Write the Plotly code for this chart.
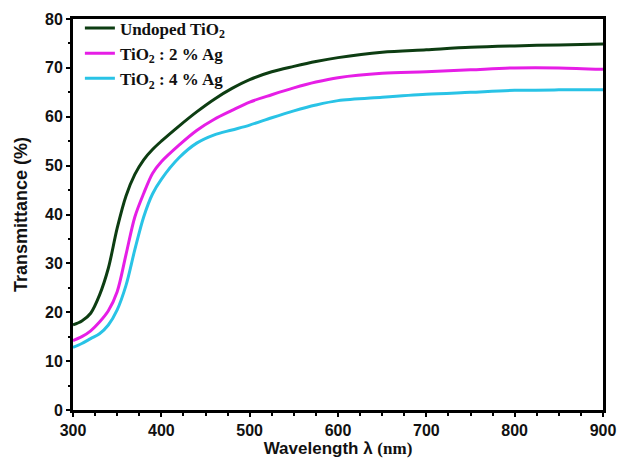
import plotly.graph_objects as go

wavelength = [300, 310, 320, 330, 340, 350, 360, 370, 380, 390, 400, 420, 440, 460, 480, 500,
              525, 550, 575, 600, 650, 700, 750, 800, 850, 900]
undoped = [17.4, 18.2, 19.8, 23.5, 29.0, 37.2, 43.8, 48.2, 51.2, 53.3, 55.0, 58.1, 61.0, 63.6, 65.8,
           67.6, 69.2, 70.3, 71.3, 72.1, 73.2, 73.7, 74.2, 74.5, 74.7, 74.9]
ag2 = [14.2, 15.0, 16.2, 18.0, 20.3, 24.2, 31.8, 39.5, 44.3, 48.4, 50.8, 54.2, 57.2, 59.5, 61.3,
       63.0, 64.5, 65.9, 67.1, 68.0, 68.9, 69.2, 69.6, 70.0, 70.0, 69.7]
ag4 = [12.8, 13.6, 14.6, 15.6, 17.4, 20.5, 25.5, 32.8, 39.5, 44.2, 47.2, 51.6, 54.6, 56.3, 57.3,
       58.3, 59.8, 61.2, 62.4, 63.3, 64.0, 64.6, 65.0, 65.4, 65.5, 65.5]

series = [
    ("Undoped TiO<sub>2</sub>", undoped, "#0d3d12"),
    ("TiO<sub>2</sub> : 2 % Ag", ag2, "#e61ee6"),
    ("TiO<sub>2</sub> : 4 % Ag", ag4, "#29c3e6"),
]

fig = go.Figure()
for name, vals, col in series:
    fig.add_trace(go.Scatter(x=wavelength, y=vals, mode="lines", name="<b>" + name + "</b>",
                             line=dict(color=col, width=3, shape="spline", smoothing=0.9)))

axis_common = dict(showline=True, linecolor="black", linewidth=3, mirror=True,
                   ticks="outside", tickwidth=2, ticklen=4, tickcolor="black",
                   showgrid=False, zeroline=False, automargin=False,
                   tickprefix="<b>", ticksuffix="</b>",
                   tickfont=dict(family="Liberation Sans, Arial", size=16, color="#111"))

fig.update_xaxes(range=[300, 900], dtick=100, tick0=300,
                 minor=dict(dtick=25, ticks="outside", ticklen=3, tickwidth=2, tickcolor="black"),
                 title=dict(text="<b>Wavelength λ <span style=\"font-family:serif\">(nm)</span></b>",
                            font=dict(family="Liberation Sans, Arial", size=17, color="#111"), standoff=3),
                 **axis_common)
fig.update_yaxes(range=[0, 80], dtick=10,
                 minor=dict(dtick=5, ticks="outside", ticklen=2, tickwidth=2, tickcolor="black"),
                 title=dict(text="<b>Transmittance (%)</b>",
                            font=dict(family="Liberation Sans, Arial", size=18, color="#111"), standoff=13),
                 **axis_common)

fig.update_layout(
    width=618, height=463,
    margin=dict(l=73, r=15, t=18, b=53),
    plot_bgcolor="white", paper_bgcolor="white",
    legend=dict(x=0.013, y=1.019, xanchor="left", yanchor="top",
                font=dict(family="Liberation Serif, Times New Roman", size=17, color="#111"),
                bgcolor="rgba(0,0,0,0)", itemwidth=30, tracegroupgap=0),
    showlegend=True,
)

fig.write_html("out.html", config={"displayModeBar": False},
               post_script="document.body.style.margin='0px';document.body.style.overflow='hidden';")
